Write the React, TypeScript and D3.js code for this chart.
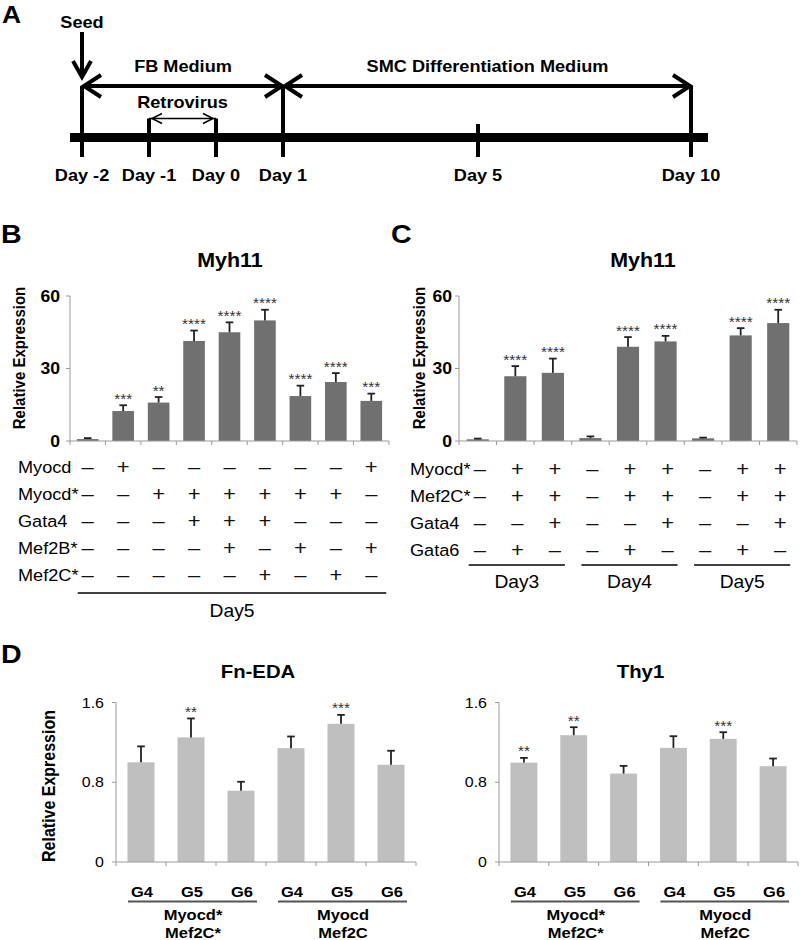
import React from "react";
import * as d3 from "d3";

const FONT = "Arial, 'Liberation Sans', Helvetica, sans-serif";
const SX = 1.1;

// ---------- Panel A: timeline ----------
const timelineDays = [-2, -1, 0, 1, 5, 10];
const timelineLabels = ["Day -2", "Day -1", "Day 0", "Day 1", "Day 5", "Day 10"];
const phaseNames = ["FB Medium", "SMC Differentiation Medium"];
const phaseStart = [-2, 1];
const phaseEnd = [1, 10];
const retroStart = -1;
const retroEnd = 0;
const retroName = "Retrovirus";
const seedDay = -2;
const seedName = "Seed";

// ---------- Panel B ----------
const bValues = [0.8, 12.4, 15.9, 41.4, 45.0, 49.9, 18.6, 24.4, 16.6];
const bErrors = [0.4, 2.4, 2.3, 4.3, 4.1, 4.4, 4.3, 3.7, 3.0];
const bStars = ["", "***", "**", "****", "****", "****", "****", "****", "***"];
const bRows = ["Myocd", "Myocd*", "Gata4", "Mef2B*", "Mef2C*"];
const bSigns = ["-+------+", "--++++++-", "---+++---", "----+-+-+", "-----+-+-"];
const bGroups = ["Day5"];
const bGroupSize = 9;
const myhTicks = [0, 30, 60];

// ---------- Panel C ----------
const cValues = [0.7, 26.8, 28.2, 1.2, 39.0, 41.2, 1.1, 43.7, 48.8];
const cErrors = [0.3, 4.2, 5.9, 0.7, 4.0, 2.3, 0.3, 3.0, 5.5];
const cStars = ["", "****", "****", "", "****", "****", "", "****", "****"];
const cRows = ["Myocd*", "Mef2C*", "Gata4", "Gata6"];
const cSigns = ["-++-++-++", "-++-++-++", "--+--+--+", "-+--+--+-"];
const cGroups = ["Day3", "Day4", "Day5"];
const cGroupSize = 3;

// ---------- Panel D ----------
const dCategories = ["G4", "G5", "G6", "G4", "G5", "G6"];
const dGroupLabels = [["Myocd*", "Mef2C*"], ["Myocd", "Mef2C"]];
const dGroupSize = 3;
const fnValues = [1.0, 1.25, 0.715, 1.142, 1.386, 0.975];
const fnErrors = [0.16, 0.19, 0.09, 0.117, 0.09, 0.141];
const fnStars = ["", "**", "", "", "***", ""];
const thyValues = [0.997, 1.272, 0.887, 1.145, 1.235, 0.961];
const thyErrors = [0.047, 0.08, 0.077, 0.117, 0.067, 0.077];
const thyStars = ["**", "**", "", "", "***", ""];
const dTicks = [0, 0.8, 1.6];

type TP = {
  x: number; y: number; size: number; weight?: string; anchor?: string;
  fill?: string; rotate?: boolean; children: React.ReactNode;
};
function T({ x, y, size, weight = "normal", anchor = "start", fill = "#000", rotate = false, children }: TP) {
  const tr = `translate(${x},${y}) scale(${SX},1)` + (rotate ? " rotate(-90)" : "");
  return (
    <text transform={tr} fontSize={size} fontWeight={weight} textAnchor={anchor as any} fill={fill}>
      {children}
    </text>
  );
}

function Chevron({ x, y, dx, dy, w }: { x: number; y: number; dx: number; dy: number; w: number }) {
  return (
    <path d={`M${x + dx},${y - dy}L${x},${y}L${x + dx},${y + dy}`} fill="none" stroke="#000" strokeWidth={w} strokeLinejoin="miter" />
  );
}

function PanelA() {
  const x = d3.scaleLinear().domain([-2, 1, 5, 10]).range([82, 283, 478, 691]);
  const barY = 137.5, bottom = 157, arrowY = 86, retroY = 118.5, shortTop = 124;
  const phaseDays = new Set([...phaseStart, ...phaseEnd]);
  const retroDays = new Set([retroStart, retroEnd]);
  return (
    <g>
      <T x={2} y={23} size={24} weight="bold">A</T>
      <line x1={70} x2={708} y1={barY} y2={barY} stroke="#000" strokeWidth={9} />
      {timelineDays.map((d, i) => {
        const top = phaseDays.has(d) ? arrowY : retroDays.has(d) ? retroY : shortTop;
        return (
          <g key={d}>
            <line x1={x(d)} x2={x(d)} y1={top} y2={bottom} stroke="#000" strokeWidth={4} />
            <T x={x(d)} y={181} size={16.5} weight="bold" anchor="middle">{timelineLabels[i]}</T>
          </g>
        );
      })}
      {phaseNames.map((p, i) => {
        const a = x(phaseStart[i]) + 2, b = x(phaseEnd[i]) - 1;
        return (
          <g key={p}>
            <line x1={a} x2={b} y1={arrowY} y2={arrowY} stroke="#000" strokeWidth={4} />
            <Chevron x={a} y={arrowY} dx={17} dy={11} w={4} />
            <Chevron x={b} y={arrowY} dx={-17} dy={11} w={4} />
            <T x={(a + b) / 2} y={72} size={16.5} weight="bold" anchor="middle">{p}</T>
          </g>
        );
      })}
      <line x1={x(retroStart)} x2={x(retroEnd)} y1={retroY} y2={retroY} stroke="#000" strokeWidth={1.5} />
      <Chevron x={x(retroStart) + 3} y={retroY} dx={10} dy={5} w={1.5} />
      <Chevron x={x(retroEnd) - 3} y={retroY} dx={-10} dy={5} w={1.5} />
      <T x={(x(retroStart) + x(retroEnd)) / 2} y={108} size={16.5} weight="bold" anchor="middle">{retroName}</T>
      <line x1={x(seedDay)} x2={x(seedDay)} y1={32} y2={76} stroke="#000" strokeWidth={4} />
      <path d={`M${x(seedDay) - 9},${61}L${x(seedDay)},${77}L${x(seedDay) + 9},${61}`} fill="none" stroke="#000" strokeWidth={4} />
      <T x={x(seedDay)} y={28} size={16.5} weight="bold" anchor="middle">{seedName}</T>
    </g>
  );
}

type BarPlotP = {
  values: number[]; errors: number[]; stars: string[];
  xs: d3.ScaleBand<number>; ys: d3.ScaleLinear<number, number>;
  fill: string; ticks: number[]; tickFmt: (v: number) => string;
  tickSize: number; tickWeight: string; tickRight: number;
};
function BarPlot({ values, errors, stars, xs, ys, fill, ticks, tickFmt, tickSize, tickWeight, tickRight }: BarPlotP) {
  const [x0, x1] = xs.range();
  const y0 = ys(0);
  const step = xs.step();
  const bw = xs.bandwidth();
  const ax = "#9a9a9a";
  return (
    <g>
      {values.map((v, i) => (
        <rect key={i} x={xs(i)} y={ys(v)} width={bw} height={y0 - ys(v)} fill={fill} />
      ))}
      {values.map((v, i) => {
        const cx = (xs(i) as number) + bw / 2;
        const top = ys(v + errors[i]);
        return (
          <g key={i}>
            <line x1={cx} x2={cx} y1={ys(v)} y2={top} stroke="#222" strokeWidth={1.8} />
            <line x1={cx - 3.8} x2={cx + 3.8} y1={top} y2={top} stroke="#222" strokeWidth={1.8} />
            {stars[i] ? <T x={cx} y={top - 1.5} size={14} anchor="middle" fill="#333">{stars[i]}</T> : null}
          </g>
        );
      })}
      <line x1={x0} x2={x0} y1={ys(ticks[ticks.length - 1])} y2={y0} stroke={ax} strokeWidth={1} />
      <line x1={x0} x2={x1} y1={y0} y2={y0} stroke={ax} strokeWidth={1} />
      {d3.range(values.length + 1).map((i) => (
        <line key={i} x1={x0 + i * step} x2={x0 + i * step} y1={y0} y2={y0 + 4} stroke={ax} />
      ))}
      {ticks.map((t) => (
        <g key={t}>
          <line x1={x0 - 4} x2={x0} y1={ys(t)} y2={ys(t)} stroke={ax} />
          <T x={tickRight} y={ys(t) + tickSize * 0.36} size={tickSize} weight={tickWeight} anchor="end">{tickFmt(t)}</T>
        </g>
      ))}
    </g>
  );
}

function SignTable({ rows, signs, xs, labelX, rowY0, rowStep, signDx }: { rows: string[]; signs: string[]; xs: d3.ScaleBand<number>; labelX: number; rowY0: number; rowStep: number; signDx: number }) {
  const bw = xs.bandwidth();
  return (
    <g>
      {rows.map((r, ri) => {
        const cy = rowY0 + ri * rowStep;
        return (
          <g key={r}>
            <T x={labelX} y={cy + 6} size={16.5}>{r}</T>
            {signs[ri].split("").map((s, i) => (
              <T key={i} x={(xs(i) as number) + bw / 2 + signDx} y={cy + 6.5} size={20} anchor="middle" fill="#111">
                {s === "+" ? "+" : "\u2013"}
              </T>
            ))}
          </g>
        );
      })}
    </g>
  );
}

function GroupLines({ groups, size, xs, lineY, labelY, lpad, rpad, fontSize }: { groups: string[]; size: number; xs: d3.ScaleBand<number>; lineY: number; labelY: number; lpad: number; rpad: number; fontSize: number }) {
  const bw = xs.bandwidth();
  return (
    <g>
      {groups.map((g, gi) => {
        const a = (xs(gi * size) as number) + bw / 2 - lpad;
        const b = (xs(gi * size + size - 1) as number) + bw / 2 + rpad;
        return (
          <g key={gi}>
            <line x1={a} x2={b} y1={lineY} y2={lineY} stroke="#000" strokeWidth={1.5} />
            <T x={(a + b) / 2} y={labelY} size={fontSize} anchor="middle">{g}</T>
          </g>
        );
      })}
    </g>
  );
}

const fmtInt = (v: number) => String(v);
const fmtDec = (v: number) => (v === 0 ? "0" : v.toFixed(1));

function PanelB() {
  const xs = d3.scaleBand<number>().domain(d3.range(bValues.length)).range([70, 389]).paddingInner(0.39).paddingOuter(0.195);
  const ys = d3.scaleLinear().domain([0, 60]).range([441, 296]);
  return (
    <g>
      <T x={1} y={243} size={26} weight="bold">B</T>
      <T x={230} y={267} size={19.5} weight="bold" anchor="middle">Myh11</T>
      <T x={25} y={358} size={15} weight="bold" anchor="middle" rotate>Relative Expression</T>
      <BarPlot values={bValues} errors={bErrors} stars={bStars} xs={xs} ys={ys} fill="#707070" ticks={myhTicks} tickFmt={fmtInt} tickSize={16} tickWeight="bold" tickRight={60} />
      <SignTable rows={bRows} signs={bSigns} xs={xs} labelX={18} rowY0={467} rowStep={27} signDx={0} />
      <GroupLines groups={bGroups} size={bGroupSize} xs={xs} lineY={593} labelY={617} lpad={10} rpad={15} fontSize={17.5} />
    </g>
  );
}

function PanelC() {
  const xs = d3.scaleBand<number>().domain(d3.range(cValues.length)).range([459, 797]).paddingInner(0.41).paddingOuter(0.205);
  const ys = d3.scaleLinear().domain([0, 60]).range([441, 296]);
  return (
    <g>
      <T x={391} y={243} size={26} weight="bold">C</T>
      <T x={643} y={267} size={19.5} weight="bold" anchor="middle">Myh11</T>
      <T x={425} y={358} size={15} weight="bold" anchor="middle" rotate>Relative Expression</T>
      <BarPlot values={cValues} errors={cErrors} stars={cStars} xs={xs} ys={ys} fill="#707070" ticks={myhTicks} tickFmt={fmtInt} tickSize={16} tickWeight="bold" tickRight={452} />
      <SignTable rows={cRows} signs={cSigns} xs={xs} labelX={410} rowY0={469} rowStep={27} signDx={2} />
      <GroupLines groups={cGroups} size={cGroupSize} xs={xs} lineY={565} labelY={588} lpad={9} rpad={12} fontSize={17.5} />
    </g>
  );
}

function DChart({ values, errors, stars, x0, x1, title, ylabel }: { values: number[]; errors: number[]; stars: string[]; x0: number; x1: number; title: string; ylabel: boolean }) {
  const xs = d3.scaleBand<number>().domain(d3.range(values.length)).range([x0, x1]).paddingInner(0.46).paddingOuter(0.23);
  const ys = d3.scaleLinear().domain([0, 1.6]).range([862, 702.5]);
  const bw = xs.bandwidth();
  const cx = (i: number) => (xs(i) as number) + bw / 2;
  return (
    <g>
      <T x={(x0 + x1) / 2 - 8} y={678} size={18.5} weight="bold" anchor="middle">{title}</T>
      {ylabel ? <T x={55} y={786} size={16} weight="bold" anchor="middle" rotate>Relative Expression</T> : null}
      <BarPlot values={values} errors={errors} stars={stars} xs={xs} ys={ys} fill="#bfbfbf" ticks={dTicks} tickFmt={fmtDec} tickSize={14.5} tickWeight="normal" tickRight={x0 - 12} />
      {dCategories.map((c, i) => (
        <T key={i} x={cx(i) + 1} y={897} size={15} weight="bold" anchor="middle">{c}</T>
      ))}
      {dGroupLabels.map((lines, gi) => {
        const a = cx(gi * dGroupSize) - 13;
        const b = cx(gi * dGroupSize + dGroupSize - 1) + 16;
        const mid = cx(gi * dGroupSize + 1) + 2;
        return (
          <g key={gi}>
            <line x1={a} x2={b} y1={901.5} y2={901.5} stroke="#555" strokeWidth={1.8} />
            {lines.map((l, li) => (
              <T key={li} x={mid} y={920 + li * 18} size={15} weight="bold" anchor="middle">{l}</T>
            ))}
          </g>
        );
      })}
    </g>
  );
}

function PanelD() {
  return (
    <g>
      <T x={1} y={663} size={26} weight="bold">D</T>
      <DChart values={fnValues} errors={fnErrors} stars={fnStars} x0={116} x1={416} title="Fn-EDA" ylabel={true} />
      <DChart values={thyValues} errors={thyErrors} stars={thyStars} x0={499} x1={798} title="Thy1" ylabel={false} />
    </g>
  );
}

export default function App() {
  return (
    <svg width={800} height={940} viewBox="0 0 800 940" style={{ position: "absolute", left: 0, top: 0, background: "#fff" }} fontFamily={FONT}>
      <rect width={800} height={940} fill="#fff" />
      <PanelA />
      <PanelB />
      <PanelC />
      <PanelD />
    </svg>
  );
}
